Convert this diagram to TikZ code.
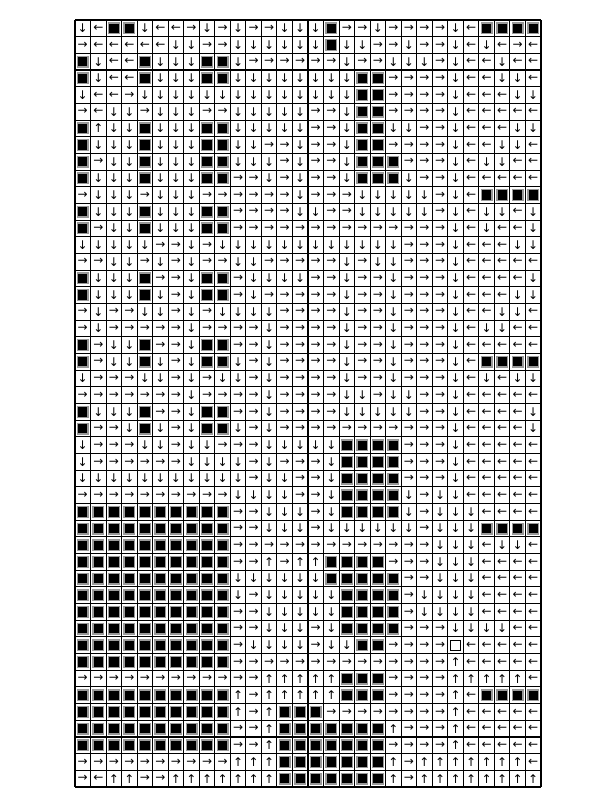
\documentclass[tikz,border=0pt]{standalone}
\usepackage{fontspec}
\setmainfont{DejaVu Sans}
\tikzstyle{gridline} = [line width=0.8pt, black]
\tikzstyle{cell}     = [inner sep=0pt, outer sep=0pt, font=\fontsize{9}{9}\selectfont]
\tikzstyle{cellR}    = [cell, node contents={→}]
\tikzstyle{cellL}    = [cell, node contents={←}]
\tikzstyle{cellU}    = [cell, node contents={↑}]
\tikzstyle{cellD}    = [cell, node contents={↓}]
\tikzstyle{cellW}    = [cell, fill=black, draw=black!40, line width=1pt, minimum size=8pt, node contents={}]
\tikzstyle{cellG}    = [cell, fill=white, draw=black, line width=0.6pt, minimum size=7.6pt, node contents={}]

\begin{document}
\begin{tikzpicture}

\useasboundingbox (0,0) rectangle (450pt,-600pt);

\begin{scope}[shift={(56.25pt,-15pt)}, x=11.65pt, y=-12.5054pt]

% políčka
\foreach \row [count=\r] in {
  {D,L,W,W,D,L,L,R,D,R,D,R,R,D,D,D,W,R,R,D,R,R,R,R,D,L,W,W,W,W},
  {R,L,L,L,L,L,D,D,R,R,D,D,D,D,D,D,W,D,D,R,R,D,R,R,D,L,D,L,R,L},
  {W,D,L,L,W,D,D,D,W,W,D,R,R,R,R,R,R,D,R,R,D,D,D,R,D,L,L,D,L,L},
  {W,D,L,L,W,D,D,D,W,W,D,D,D,D,D,D,D,D,W,W,R,R,R,R,D,L,L,D,D,L},
  {D,L,L,R,D,D,D,D,D,D,D,D,D,D,D,D,D,D,W,W,R,R,R,R,D,L,L,L,D,D},
  {R,L,D,D,R,D,D,D,R,R,D,D,D,D,D,R,R,D,W,W,R,R,R,R,D,L,L,L,L,L},
  {W,U,D,D,W,D,D,D,W,W,D,D,D,D,D,R,R,D,W,W,D,D,R,R,D,L,L,L,D,D},
  {W,D,D,D,W,D,D,D,W,W,D,D,R,R,D,R,R,D,W,W,R,R,R,R,D,L,L,D,D,L},
  {W,R,D,D,W,D,D,D,W,W,D,D,D,R,D,R,R,D,W,W,W,R,R,R,D,L,D,D,L,L},
  {W,D,D,D,W,D,D,D,W,W,R,R,D,R,D,R,R,D,W,W,W,D,R,R,D,L,L,L,L,L},
  {R,D,D,D,R,D,D,D,R,R,R,R,R,R,D,R,R,R,D,D,D,D,D,R,D,L,W,W,W,W},
  {W,D,D,D,W,D,D,D,W,W,R,R,R,R,D,D,R,R,D,D,D,D,D,R,D,L,D,D,L,D},
  {W,R,D,D,W,D,D,D,W,W,R,R,R,R,R,R,R,R,R,R,R,R,R,R,D,L,D,L,L,D},
  {D,D,D,D,D,R,R,D,R,D,D,D,D,D,D,D,D,D,D,D,D,R,R,R,D,L,L,L,D,D},
  {R,R,D,D,R,D,R,D,R,R,D,D,R,R,R,R,R,D,R,D,D,R,R,R,D,L,L,L,L,L},
  {W,D,D,D,W,R,R,D,W,W,R,D,D,D,D,R,R,D,R,R,D,R,R,R,D,L,L,L,L,D},
  {W,D,D,D,W,D,R,D,W,W,R,D,R,R,R,R,R,D,R,R,D,R,R,R,D,L,L,L,D,D},
  {R,D,R,R,D,D,R,D,R,D,D,D,D,R,R,R,R,D,R,R,D,R,R,R,D,L,L,D,D,L},
  {R,D,R,R,R,R,R,D,R,R,R,R,D,R,R,R,R,D,R,R,D,R,R,R,D,L,D,D,L,L},
  {W,R,D,D,W,R,R,D,W,W,R,R,D,R,R,R,R,D,R,R,D,R,R,R,D,L,L,L,L,L},
  {W,R,D,D,W,D,R,D,W,W,D,R,D,R,R,R,R,D,R,R,D,R,R,R,D,L,W,W,W,W},
  {D,R,R,R,D,D,R,D,R,D,D,R,D,R,R,R,R,D,R,R,D,R,R,R,D,L,D,L,D,D},
  {R,R,R,R,R,R,R,D,R,R,R,R,D,R,R,R,R,D,D,R,D,D,R,R,D,L,L,L,L,L},
  {W,D,D,D,W,R,R,D,W,W,R,R,D,R,R,R,R,D,D,D,D,D,R,R,D,L,L,L,L,D},
  {W,R,R,D,W,D,R,D,W,W,D,R,D,R,R,R,R,R,R,R,R,R,R,R,D,L,L,L,L,D},
  {D,R,R,R,D,D,R,D,D,R,R,R,D,D,D,D,D,W,W,W,W,R,R,R,D,L,L,L,L,L},
  {D,R,R,R,R,R,R,D,D,D,D,R,D,R,R,R,D,W,W,W,W,R,R,R,D,L,L,L,L,L},
  {D,D,D,D,D,D,D,D,D,D,D,R,D,D,R,R,D,W,W,W,W,R,R,R,D,L,L,L,L,L},
  {R,R,R,R,R,R,R,R,R,R,D,D,D,D,R,R,D,W,W,W,W,D,R,D,D,L,L,L,L,L},
  {W,W,W,W,W,W,W,W,W,W,R,R,D,D,D,R,D,W,W,W,W,D,R,D,D,D,L,L,L,L},
  {W,W,W,W,W,W,W,W,W,W,R,R,D,D,D,R,D,D,D,D,D,D,R,D,D,D,W,W,W,W},
  {W,W,W,W,W,W,W,W,W,W,R,R,R,R,R,R,R,R,R,R,R,R,R,D,D,D,L,D,D,L},
  {W,W,W,W,W,W,W,W,W,W,R,R,U,R,U,U,W,W,W,W,R,R,R,D,D,D,L,L,L,L},
  {W,W,W,W,W,W,W,W,W,W,D,D,D,D,D,D,W,W,W,W,W,R,R,D,D,D,L,L,L,L},
  {W,W,W,W,W,W,W,W,W,W,D,R,D,D,D,D,D,W,W,W,W,R,D,D,D,D,L,L,L,L},
  {W,W,W,W,W,W,W,W,W,W,R,R,D,D,D,D,D,W,W,W,W,R,D,D,D,D,L,L,L,L},
  {W,W,W,W,W,W,W,W,W,W,R,R,D,D,D,R,D,W,W,W,W,R,R,R,D,D,D,D,L,L},
  {W,W,W,W,W,W,W,W,W,W,R,D,D,D,D,R,D,D,W,W,R,R,R,R,G,L,L,L,L,L},
  {W,W,W,W,W,W,W,W,W,W,R,R,R,R,R,R,R,R,R,R,R,R,R,R,U,L,L,L,L,L},
  {R,R,R,R,R,R,R,R,R,R,R,R,U,U,U,U,U,W,W,W,R,R,R,R,U,U,U,U,U,L},
  {W,W,W,W,W,W,W,W,W,W,U,R,U,U,U,U,U,W,W,W,R,R,R,R,U,L,W,W,W,W},
  {W,W,W,W,W,W,W,W,W,W,U,R,U,W,W,W,R,R,R,R,R,R,R,R,U,L,L,L,L,L},
  {W,W,W,W,W,W,W,W,W,W,R,R,U,W,W,W,W,W,W,W,U,R,R,R,U,L,L,L,L,L},
  {W,W,W,W,W,W,W,W,W,W,R,R,U,W,W,W,W,W,W,W,R,R,R,R,U,L,L,L,L,L},
  {R,R,R,R,R,R,R,R,R,R,U,U,U,W,W,W,W,W,W,W,U,R,U,U,U,U,U,U,U,L},
  {R,L,U,U,R,R,U,U,U,U,U,U,U,W,W,W,W,W,W,W,U,R,U,U,U,U,U,U,U,U}} {
  \foreach \s [count=\c] in \row {
    \node (p-\r-\c) at (\c-0.5,\r-0.5) [cell\s];
  }
}

% mřížka
\foreach \c in {0,...,30} \draw[gridline] (\c,0) -- (\c,46);
\foreach \r in {0,...,46} \draw[gridline] (0,\r) -- (30,\r);

\end{scope}
\end{tikzpicture}
\end{document}
